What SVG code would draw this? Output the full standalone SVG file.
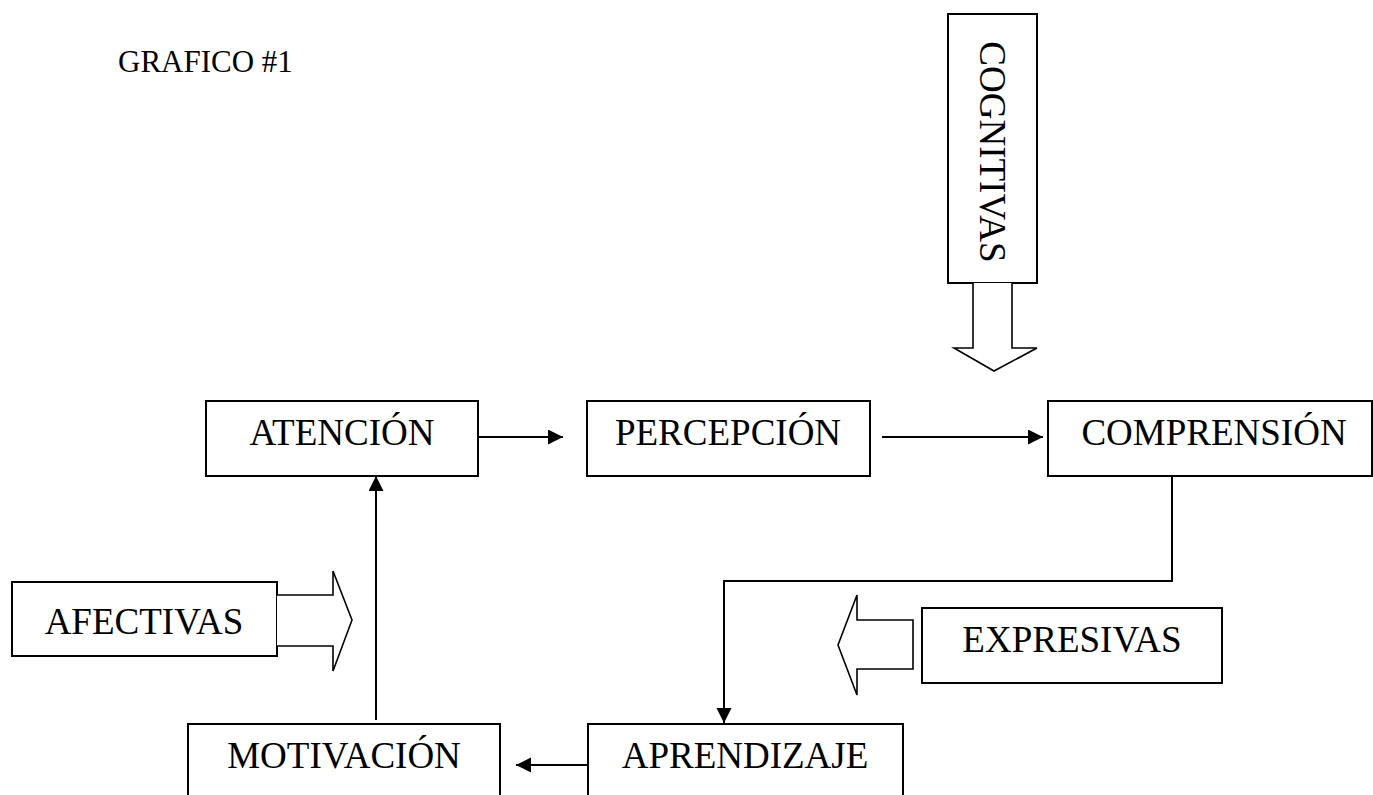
<svg xmlns="http://www.w3.org/2000/svg" width="1373" height="795" viewBox="0 0 1373 795">
  <style>
    .box { fill: #fff; stroke: #000; stroke-width: 2; }
    .block { fill: #fff; stroke: #000; stroke-width: 1.6; stroke-linejoin: miter; }
    .lbl { font-family: "Liberation Serif", "Times New Roman", serif; font-size: 37px; fill: #000; text-anchor: middle; }
    .title { font-family: "Liberation Serif", "Times New Roman", serif; font-size: 31px; fill: #000; }
    .conn { fill: none; stroke: #000; stroke-width: 2; }
  </style>
  <defs>
    <marker id="head" markerUnits="userSpaceOnUse" markerWidth="16" markerHeight="16" refX="15" refY="7.5" orient="auto">
      <path d="M0,0 L15,7.5 L0,15 z" fill="#000"/>
    </marker>
  </defs>

  <rect width="1373" height="795" fill="#fff"/>

  <text class="title" x="118" y="72">GRAFICO #1</text>

  <!-- influence blocks with hollow arrows -->
  <g id="cognitivas">
    <rect class="box" x="948" y="14" width="89" height="269"/>
    <path class="block" d="M973,283 L973,348 L954,348 L994,371 L1037,348 L1012,348 L1012,283"/>
    <text class="lbl" font-size="38" transform="translate(980,152) rotate(90)">COGNITIVAS</text>
  </g>

  <g id="afectivas">
    <rect class="box" x="12" y="582" width="265" height="74"/>
    <path class="block" d="M277,595 L333,595 L333,571 L352,620 L333,671 L333,646 L277,646"/>
    <text class="lbl" x="144" y="634">AFECTIVAS</text>
  </g>

  <g id="expresivas">
    <rect class="box" x="922" y="608" width="300" height="75"/>
    <path class="block" d="M913,620 L857,620 L857,595 L838,645 L857,695 L857,669 L913,669 z"/>
    <text class="lbl" x="1072" y="652">EXPRESIVAS</text>
  </g>

  <!-- process nodes -->
  <g id="atencion">
    <rect class="box" x="206" y="401" width="272" height="75"/>
    <text class="lbl" x="342" y="445">ATENCIÓN</text>
  </g>
  <g id="percepcion">
    <rect class="box" x="587" y="401" width="283" height="75"/>
    <text class="lbl" x="728" y="445">PERCEPCIÓN</text>
  </g>
  <g id="comprension">
    <rect class="box" x="1048" y="401" width="324" height="75"/>
    <text class="lbl" x="1214" y="445">COMPRENSIÓN</text>
  </g>
  <g id="aprendizaje">
    <rect class="box" x="588" y="724" width="315" height="90"/>
    <text class="lbl" x="745" y="768">APRENDIZAJE</text>
  </g>
  <g id="motivacion">
    <rect class="box" x="188" y="724" width="312" height="90"/>
    <text class="lbl" x="344" y="768">MOTIVACIÓN</text>
  </g>

  <!-- connectors -->
  <g id="connectors">
    <path class="conn" d="M479,437 L563,437" marker-end="url(#head)"/>
    <path class="conn" d="M882,437 L1043,437" marker-end="url(#head)"/>
    <path class="conn" d="M1172,476 L1172,581 L724,581 L724,723" marker-end="url(#head)"/>
    <path class="conn" d="M588,765 L516,765" marker-end="url(#head)"/>
    <path class="conn" d="M376,720 L376,476" marker-end="url(#head)"/>
  </g>
</svg>
